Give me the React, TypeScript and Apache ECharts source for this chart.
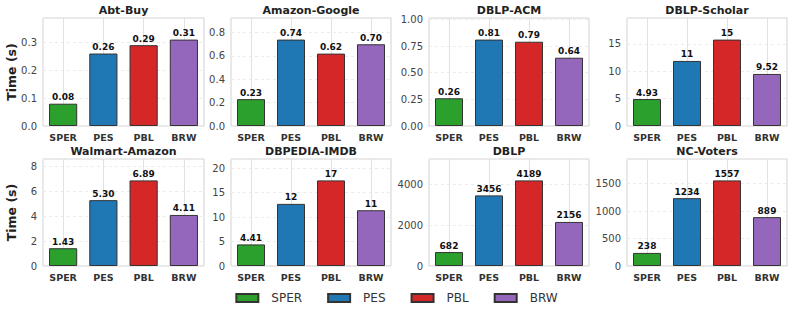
import React, { useEffect, useRef } from 'react';
import * as echarts from 'echarts';

const methods = ['SPER', 'PES', 'PBL', 'BRW'];
const methodColors = ['#2ca02c', '#1f77b4', '#d62728', '#9467bd'];
const datasetNames = ['Abt-Buy', 'Amazon-Google', 'DBLP-ACM', 'DBLP-Scholar', 'Walmart-Amazon', 'DBPEDIA-IMDB', 'DBLP', 'NC-Voters'];
const abtBuy = [0.08, 0.26, 0.29, 0.31];
const amazonGoogle = [0.23, 0.74, 0.62, 0.70];
const dblpAcm = [0.26, 0.81, 0.79, 0.64];
const dblpScholar = [4.93, 11.9, 15.8, 9.52];
const walmartAmazon = [1.43, 5.30, 6.89, 4.11];
const dbpediaImdb = [4.41, 12.7, 17.5, 11.4];
const dblp = [682, 3456, 4189, 2156];
const ncVoters = [238, 1234, 1557, 889];
const panelValues = [abtBuy, amazonGoogle, dblpAcm, dblpScholar, walmartAmazon, dbpediaImdb, dblp, ncVoters];
const tickIntervals = [0.1, 0.2, 0.25, 5, 2, 5, 2000, 500];
const tickDecimals = [1, 1, 2, 0, 0, 0, 0, 0];
const yAxisTitle = 'Time (s)';

const FONT = 'DejaVu Sans';
const colLeft = [43, 231, 429, 627];
const colWidth = [161, 160, 160, 160];
const rowTop = [18, 159];
const rowHeight = [108, 107];

function fmtValue(v: number): string {
  return v >= 10 ? String(Math.floor(v)) : v.toFixed(2);
}

export default function App() {
  const ref = useRef<HTMLDivElement>(null);
  useEffect(() => {
    if (!ref.current) return;
    const chart = echarts.init(ref.current, null, { renderer: 'svg' });
    const grids: any[] = [];
    const xAxes: any[] = [];
    const yAxes: any[] = [];
    const series: any[] = [];
    const graphics: any[] = [];
    panelValues.forEach((vals, p) => {
      const r = Math.floor(p / 4);
      const c = p % 4;
      grids.push({
        left: colLeft[c], top: rowTop[r], width: colWidth[c], height: rowHeight[r],
        show: true, borderColor: '#d2d2d2', borderWidth: 1, containLabel: false,
      });
      xAxes.push({
        type: 'category', gridIndex: p, data: methods,
        axisLine: { show: false }, axisTick: { show: false },
        axisLabel: { fontFamily: FONT, fontSize: 9.5, fontWeight: 'bold', color: '#333', margin: 6, interval: 0 },
        splitLine: { show: true, alignWithLabel: true, lineStyle: { color: '#e2e2e2', width: 1 } },
      });
      const interval = tickIntervals[p];
      const dec = tickDecimals[p];
      yAxes.push({
        type: 'value', gridIndex: p, min: 0, max: Math.max(...vals) * 1.25, interval,
        axisLine: { show: false }, axisTick: { show: false },
        axisLabel: {
          fontFamily: FONT, fontSize: 10, color: '#444', margin: 6,
          formatter: (v: number) => {
            const k = v / interval;
            if (Math.abs(k - Math.round(k)) > 1e-6) return '';
            return v.toFixed(dec);
          },
        },
        splitLine: { show: true, lineStyle: { color: '#ebebeb', type: [3, 3], width: 1 } },
      });
      methods.forEach((m, mi) => {
        series.push({
          type: 'bar', name: m, xAxisIndex: p, yAxisIndex: p, stack: 'panel' + p,
          barWidth: '70%',
          data: vals.map((v, i) => (i === mi ? v : '-')),
          itemStyle: { color: methodColors[mi], borderColor: '#333', borderWidth: 1 },
          label: {
            show: true, position: 'top', distance: 2,
            fontFamily: FONT, fontSize: 9, fontWeight: 'bold', color: '#111',
            formatter: (pr: any) => fmtValue(pr.value),
          },
        });
      });
      graphics.push({
        type: 'text', x: colLeft[c] + colWidth[c] / 2, y: rowTop[r] - 8,
        style: { text: datasetNames[p], fontFamily: FONT, fontSize: 11, fontWeight: 'bold', fill: '#222', align: 'center', verticalAlign: 'middle' },
      });
    });
    for (let r = 0; r < 2; r++) {
      graphics.push({
        type: 'text', x: 11.5, y: rowTop[r] + rowHeight[r] / 2, rotation: Math.PI / 2,
        style: { text: yAxisTitle, fontFamily: FONT, fontSize: 12.5, fontWeight: 'bold', fill: '#222', align: 'center', verticalAlign: 'middle' },
      });
    }
    chart.setOption({
      animation: false,
      backgroundColor: '#ffffff',
      grid: grids, xAxis: xAxes, yAxis: yAxes, series,
      graphic: graphics,
      legend: {
        data: methods, left: 'center', top: 287, icon: 'rect',
        itemWidth: 22, itemHeight: 8, itemGap: 25,
        textStyle: { fontFamily: FONT, fontSize: 12, color: '#333', padding: [0, 0, 0, 8] },
      },
    });
    return () => chart.dispose();
  }, []);
  return <div ref={ref} style={{ position: 'fixed', left: 0, top: 0, width: 793, height: 312 }} />;
}
